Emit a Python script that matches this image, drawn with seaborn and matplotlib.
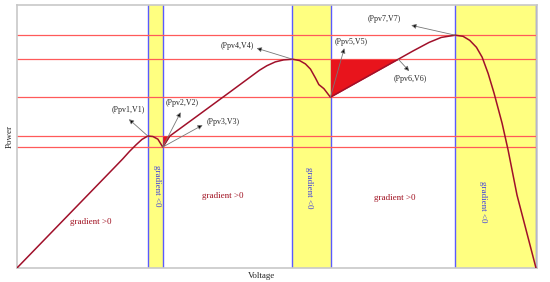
import numpy as np
import pandas as pd
import matplotlib.pyplot as plt
import seaborn as sns

# datos (unidades arbitrarias)
voltage = [0, 5.9, 6.3, 6.7, 7.1, 7.45, 7.80, 8.1, 8.4, 8.69,
           9.11, 10.89, 12.68, 14.46, 14.9, 15.4, 15.9, 16.43,
           16.85, 17.2, 17.5, 17.8, 18.0, 18.3, 18.69,
           22.74, 23.6, 24.58, 25.3, 26.13,
           26.6, 27.0, 27.4, 27.74, 28.1, 28.45, 28.93, 29.29, 29.82, 30.95]
power = [0, 45.4, 48.5, 51.8, 54.8, 57.2, 58.7, 58.5, 57.3, 53.8,
         58.7, 68.4, 78.2, 88.0, 90.0, 91.7, 92.6, 92.9,
         92.3, 90.8, 88.5, 84.5, 81.6, 79.8, 76.0,
         92.9, 96.5, 100.4, 102.6, 103.6,
         103.1, 101.3, 98.2, 93.8, 86.5, 77.8, 64.4, 52.4, 32.4, 0]

level_lines = [103.6, 92.9, 76.0, 58.7, 53.8]
bands = [(7.83, 8.72), (16.4, 18.72), (26.13, 30.95)]

point_labels = ['(Ppv1,V1)', '(Ppv2,V2)', '(Ppv3,V3)', '(Ppv4,V4)',
                '(Ppv5,V5)', '(Ppv6,V6)', '(Ppv7,V7)']
point_xy = [(7.80, 58.7), (8.69, 53.8), (8.69, 53.8), (16.43, 92.9),
            (18.69, 76.0), (22.74, 92.9), (26.13, 103.6)]
head_xy = [(6.67, 66.2), (9.76, 69.3), (11.07, 63.6), (14.29, 97.8),
           (19.52, 97.8), (23.39, 87.6), (23.51, 108.0)]
text_xy = [(6.61, 70.2), (9.82, 73.3), (12.32, 64.9), (13.15, 98.7),
           (19.94, 100.4), (23.45, 84.0), (21.9, 110.7)]

pos_xy = [(4.40, 20.4), (12.26, 32.0), (22.5, 31.1)]
neg_xy = [(8.33, 36.4), (17.44, 35.6), (27.8, 29.3)]

df = pd.DataFrame({'Voltage': voltage, 'Power': power})

sns.set_style('white')
plt.rcParams['font.family'] = ['Liberation Serif', 'DejaVu Serif']

fig = plt.figure(figsize=(5.5, 2.82), dpi=100)
ax = fig.add_axes([0.031, 0.05, 0.945, 0.932])

# bandas amarillas con bordes azules
for a, b in bands:
    ax.axvspan(a, b, color='#ffff80', zorder=0, lw=0)
    ax.axvline(a, color='#5a5aff', lw=1, zorder=1)
    ax.axvline(b, color='#5a5aff', lw=1, zorder=1)

for y in level_lines:
    ax.axhline(y, color='#ff5a5a', lw=0.9, zorder=2)

# triangulos rojos
v = np.array(voltage)
p = np.array(power)
ax.fill_between(v, p, 58.7, where=(v >= 8.69) & (v <= 9.11),
                color='#e8141c', lw=0, zorder=3)
ax.fill_between(v, p, 92.9, where=(v >= 18.69) & (v <= 22.74),
                color='#e8141c', lw=0, zorder=3)

sns.lineplot(data=df, x='Voltage', y='Power', color='#a0102a', lw=1.1,
             ax=ax, zorder=4, sort=False)

for lab, pt, hd, tx in zip(point_labels, point_xy, head_xy, text_xy):
    ax.annotate('', xy=hd, xytext=pt,
                arrowprops=dict(arrowstyle='-|>', ec='#777777', fc='black',
                                lw=0.6, mutation_scale=7, shrinkA=0, shrinkB=0),
                zorder=5)
    ax.text(tx[0], tx[1], lab, fontsize=5.7, ha='center', va='center', zorder=6)

for x, y in pos_xy:
    ax.text(x, y, 'gradient >0', fontsize=6.5, color='#a01020',
            ha='center', va='center')
for x, y in neg_xy:
    ax.text(x, y, 'gradient <0', fontsize=6.5, color='#4040e0',
            ha='center', va='center', rotation=270)

ax.set_xlim(0, 31)
ax.set_ylim(0, 117)
ax.set_xticks(np.arange(0, 31, 5))
ax.set_yticks(np.arange(0, 101, 20))
ax.tick_params(direction='in', length=3, colors='#aaaaaa',
               labelbottom=False, labelleft=False)
for s in ax.spines.values():
    s.set_color('#c8c8c8')
    s.set_linewidth(1.2)

ax.set_xlabel('Voltage', fontsize=6.5, labelpad=1)
ax.xaxis.set_label_coords(0.47, -0.015)
ax.set_ylabel('Power', fontsize=6.5, labelpad=1)
ax.yaxis.set_label_coords(-0.006, 0.5)

fig.savefig('out.png', dpi=100)
